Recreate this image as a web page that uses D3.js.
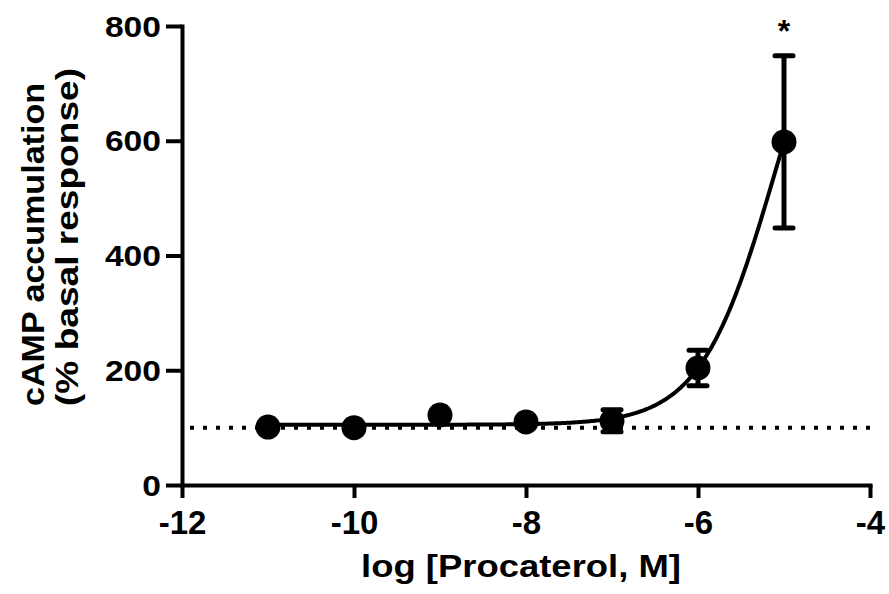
<!DOCTYPE html>
<html>
<head>
<meta charset="utf-8">
<script src="https://cdn.jsdelivr.net/npm/d3@7"></script>
<style>
  html, body { margin: 0; padding: 0; background: #fff; }
  svg text { font-family: "Liberation Sans", Arial, Helvetica, sans-serif; font-weight: bold; fill: #000; }
</style>
</head>
<body>
<svg id="chart" width="889" height="594"></svg>
<script>
// ---- data ----
const xTicks = [-12, -10, -8, -6, -4];
const yTicks = [0, 200, 400, 600, 800];
const logConc = [-11, -10, -9, -8, -7, -6, -5];
const meanResp = [101, 100, 122, 110, 112, 204, 598];
const semResp = [4, 4, 4, 4, 19, 31, 150];
const baseline = [100];
const sigLabels = ["", "", "", "", "", "", "*"];
// fitted sigmoid parameters (log agonist vs response)
const fitBottom = [105];
const fitTop = [989];
const fitLogEC50 = [-5.1];
const fitHill = [1];

const svg = d3.select("#chart");
const x = d3.scaleLinear().domain([-12, -4]).range([182, 870]);
const y = d3.scaleLinear().domain([0, 800]).range([485, 26]);

// baseline dotted line
svg.append("line")
  .attr("x1", x(-12) + 8).attr("x2", x(-4))
  .attr("y1", y(baseline[0])).attr("y2", y(baseline[0]))
  .attr("stroke", "#000").attr("stroke-width", 4)
  .attr("stroke-dasharray", "4,9");

// axes
const xAxis = svg.append("g").attr("transform", `translate(0,${y(0)})`)
  .call(d3.axisBottom(x).tickValues(xTicks).tickSize(13).tickSizeOuter(0)
        .tickFormat(d => String(d).replace("\u2212", "-")));
const yAxis = svg.append("g").attr("transform", `translate(${x(-12)},0)`)
  .call(d3.axisLeft(y).tickValues(yTicks).tickSize(16).tickSizeOuter(0));

[xAxis, yAxis].forEach(g => {
  g.select(".domain").attr("stroke", "#000").attr("stroke-width", 4).attr("stroke-linecap", "square");
  g.selectAll(".tick line").attr("stroke", "#000").attr("stroke-width", 4);
});
xAxis.selectAll(".tick text")
  .attr("y", 49).attr("dy", 0)
  .style("font-size", "33px");
yAxis.selectAll(".tick text")
  .attr("x", -21).attr("dy", "0.34em")
  .style("font-size", "30px")
  .attr("textLength", d => String(d).length * 18.7)
  .attr("lengthAdjust", "spacingAndGlyphs");

// fitted curve
const fitFn = v => fitBottom[0] + (fitTop[0] - fitBottom[0]) /
  (1 + Math.pow(10, (fitLogEC50[0] - v) * fitHill[0]));
const curveX = d3.range(logConc[0], logConc[logConc.length - 1] + 0.001, 0.02);
svg.append("path")
  .datum(curveX)
  .attr("fill", "none").attr("stroke", "#000").attr("stroke-width", 4)
  .attr("d", d3.line().x(d => x(d)).y(d => y(fitFn(d))));

// error bars
const pts = logConc.map((c, i) => ({ c, m: meanResp[i], e: semResp[i], s: sigLabels[i] }));
const eb = svg.append("g");
eb.selectAll("line.v").data(pts).join("line")
  .attr("x1", d => x(d.c)).attr("x2", d => x(d.c))
  .attr("y1", d => y(d.m + d.e)).attr("y2", d => y(d.m - d.e))
  .attr("stroke", "#000").attr("stroke-width", 5);
eb.selectAll("line.top").data(pts).join("line")
  .attr("x1", d => x(d.c) - 9).attr("x2", d => x(d.c) + 9)
  .attr("y1", d => y(d.m + d.e)).attr("y2", d => y(d.m + d.e))
  .attr("stroke", "#000").attr("stroke-width", 5).attr("stroke-linecap", "round");
eb.selectAll("line.bot").data(pts).join("line")
  .attr("x1", d => x(d.c) - 9).attr("x2", d => x(d.c) + 9)
  .attr("y1", d => y(d.m - d.e)).attr("y2", d => y(d.m - d.e))
  .attr("stroke", "#000").attr("stroke-width", 5).attr("stroke-linecap", "round");

// markers
svg.append("g").selectAll("circle").data(pts).join("circle")
  .attr("cx", d => x(d.c)).attr("cy", d => y(d.m)).attr("r", 12.5)
  .attr("fill", "#000");

// significance
svg.append("g").selectAll("text").data(pts.filter(d => d.s)).join("text")
  .attr("x", d => x(d.c)).attr("y", 42)
  .attr("text-anchor", "middle")
  .style("font-size", "32px")
  .text(d => d.s);

// axis titles
svg.append("text")
  .attr("x", 521).attr("y", 577)
  .attr("text-anchor", "middle")
  .style("font-size", "31px")
  .attr("textLength", 320).attr("lengthAdjust", "spacingAndGlyphs")
  .text("log [Procaterol, M]");

svg.append("text")
  .attr("transform", "translate(44,406) rotate(-90)")
  .attr("text-anchor", "start")
  .style("font-size", "31px")
  .attr("textLength", 323).attr("lengthAdjust", "spacingAndGlyphs")
  .text("cAMP accumulation");

svg.append("text")
  .attr("transform", "translate(78,406) rotate(-90)")
  .attr("text-anchor", "start")
  .style("font-size", "31px")
  .attr("textLength", 338).attr("lengthAdjust", "spacingAndGlyphs")
  .text("(% basal response)");
</script>
</body>
</html>
